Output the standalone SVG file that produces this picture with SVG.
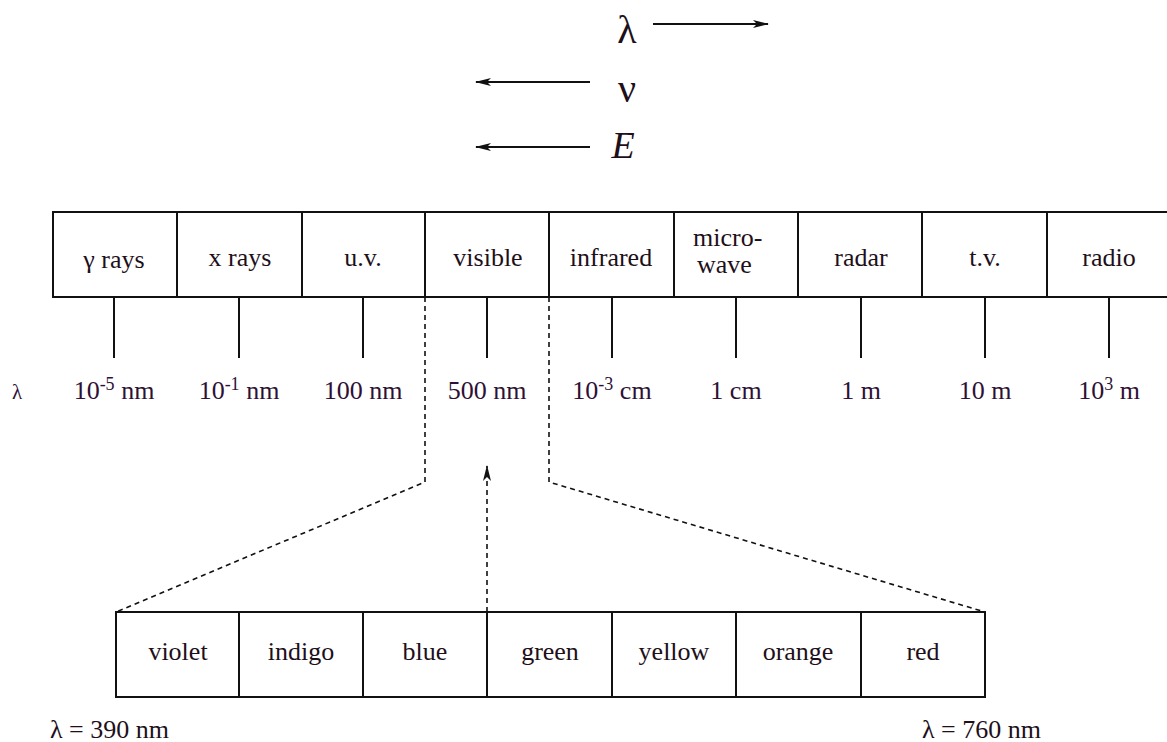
<svg xmlns="http://www.w3.org/2000/svg" width="1167" height="742" viewBox="0 0 1167 742">
<defs>
<marker id="ah" viewBox="0 0 16 10" refX="15" refY="5" markerWidth="16" markerHeight="10" markerUnits="userSpaceOnUse" orient="auto">
<path d="M0,1 L16,5 L0,9 L4,5 z" fill="#111"/>
</marker>
</defs>

<g id="legend" fill="#1e0f1a">
<text style="font-family:'Liberation Serif'" x="627" y="43" font-size="40" text-anchor="middle">λ</text>
<text style="font-family:'Liberation Serif'" x="627" y="102" font-size="40" text-anchor="middle">ν</text>
<text style="font-family:'Liberation Serif'" x="623" y="158" font-size="38" text-anchor="middle" font-style="italic">E</text>
</g>

<g id="connectors" stroke="#111" stroke-width="2" fill="none">
<line x1="653" y1="24" x2="768" y2="24" marker-end="url(#ah)"/>
<line x1="590" y1="82" x2="476" y2="82" marker-end="url(#ah)"/>
<line x1="590" y1="147" x2="476" y2="147" marker-end="url(#ah)"/>
<line x1="114" y1="297" x2="114" y2="358"/>
<line x1="239" y1="297" x2="239" y2="358"/>
<line x1="363" y1="297" x2="363" y2="358"/>
<line x1="487" y1="297" x2="487" y2="358"/>
<line x1="612" y1="297" x2="612" y2="358"/>
<line x1="736" y1="297" x2="736" y2="358"/>
<line x1="861" y1="297" x2="861" y2="358"/>
<line x1="985" y1="297" x2="985" y2="358"/>
<line x1="1109" y1="297" x2="1109" y2="358"/>
<g stroke-width="1.6" stroke-dasharray="5 4">
<polyline points="425,297 425,482 116,612"/>
<polyline points="549,297 549,482 985,612"/>
<line x1="487" y1="612" x2="487" y2="466" marker-end="url(#ah)"/>
</g>
</g>

<g id="spectrum">
<rect x="53" y="212" width="1130" height="85" fill="#fff" stroke="#111" stroke-width="2"/>
<g stroke="#111" stroke-width="2">
<line x1="177" y1="212" x2="177" y2="297"/>
<line x1="302" y1="212" x2="302" y2="297"/>
<line x1="425" y1="212" x2="425" y2="297"/>
<line x1="549" y1="212" x2="549" y2="297"/>
<line x1="674" y1="212" x2="674" y2="297"/>
<line x1="798" y1="212" x2="798" y2="297"/>
<line x1="922" y1="212" x2="922" y2="297"/>
<line x1="1047" y1="212" x2="1047" y2="297"/>
</g>
<g font-size="26" text-anchor="middle" fill="#1e0f1a">
<text style="font-family:'Liberation Serif'" x="114" y="268">γ rays</text>
<text style="font-family:'Liberation Serif'" x="240" y="266">x rays</text>
<text style="font-family:'Liberation Serif'" x="363" y="266">u.v.</text>
<text style="font-family:'Liberation Serif'" x="488" y="266">visible</text>
<text style="font-family:'Liberation Serif'" x="611" y="266">infrared</text>
<text style="font-family:'Liberation Serif'" x="693" y="246" text-anchor="start">micro-</text>
<text style="font-family:'Liberation Serif'" x="697" y="273" text-anchor="start">wave</text>
<text style="font-family:'Liberation Serif'" x="861" y="266">radar</text>
<text style="font-family:'Liberation Serif'" x="985" y="266">t.v.</text>
<text style="font-family:'Liberation Serif'" x="1109" y="266">radio</text>
</g>
</g>

<g id="wavelengths" fill="#2e1035">
<text style="font-family:'Liberation Serif'" x="12" y="399" font-size="21">λ</text>
<g font-size="26" text-anchor="middle">
<text style="font-family:'Liberation Serif'" x="114" y="399">10<tspan font-size="18" dy="-9">-5</tspan><tspan dy="9"> nm</tspan></text>
<text style="font-family:'Liberation Serif'" x="239" y="399">10<tspan font-size="18" dy="-9">-1</tspan><tspan dy="9"> nm</tspan></text>
<text style="font-family:'Liberation Serif'" x="363" y="399">100 nm</text>
<text style="font-family:'Liberation Serif'" x="487" y="399">500 nm</text>
<text style="font-family:'Liberation Serif'" x="612" y="399">10<tspan font-size="18" dy="-9">-3</tspan><tspan dy="9"> cm</tspan></text>
<text style="font-family:'Liberation Serif'" x="736" y="399">1 cm</text>
<text style="font-family:'Liberation Serif'" x="861" y="399">1 m</text>
<text style="font-family:'Liberation Serif'" x="985" y="399">10 m</text>
<text style="font-family:'Liberation Serif'" x="1109" y="399">10<tspan font-size="18" dy="-9">3</tspan><tspan dy="9"> m</tspan></text>
</g>
</g>

<g id="visible-band">
<rect x="116" y="612" width="869" height="85" fill="#fff" stroke="#111" stroke-width="2"/>
<g stroke="#111" stroke-width="2">
<line x1="239" y1="612" x2="239" y2="697"/>
<line x1="363" y1="612" x2="363" y2="697"/>
<line x1="487" y1="612" x2="487" y2="697"/>
<line x1="612" y1="612" x2="612" y2="697"/>
<line x1="736" y1="612" x2="736" y2="697"/>
<line x1="861" y1="612" x2="861" y2="697"/>
</g>
<g font-size="26" text-anchor="middle" fill="#1e0f1a">
<text style="font-family:'Liberation Serif'" x="178" y="660">violet</text>
<text style="font-family:'Liberation Serif'" x="301" y="660">indigo</text>
<text style="font-family:'Liberation Serif'" x="425" y="660">blue</text>
<text style="font-family:'Liberation Serif'" x="550" y="660">green</text>
<text style="font-family:'Liberation Serif'" x="674" y="660">yellow</text>
<text style="font-family:'Liberation Serif'" x="798" y="660">orange</text>
<text style="font-family:'Liberation Serif'" x="923" y="660">red</text>
</g>
</g>

<g id="limits" fill="#1e0f1a" font-size="26">
<text style="font-family:'Liberation Serif'" x="50" y="738">λ = 390 nm</text>
<text style="font-family:'Liberation Serif'" x="922" y="738">λ = 760 nm</text>
</g>
</svg>
